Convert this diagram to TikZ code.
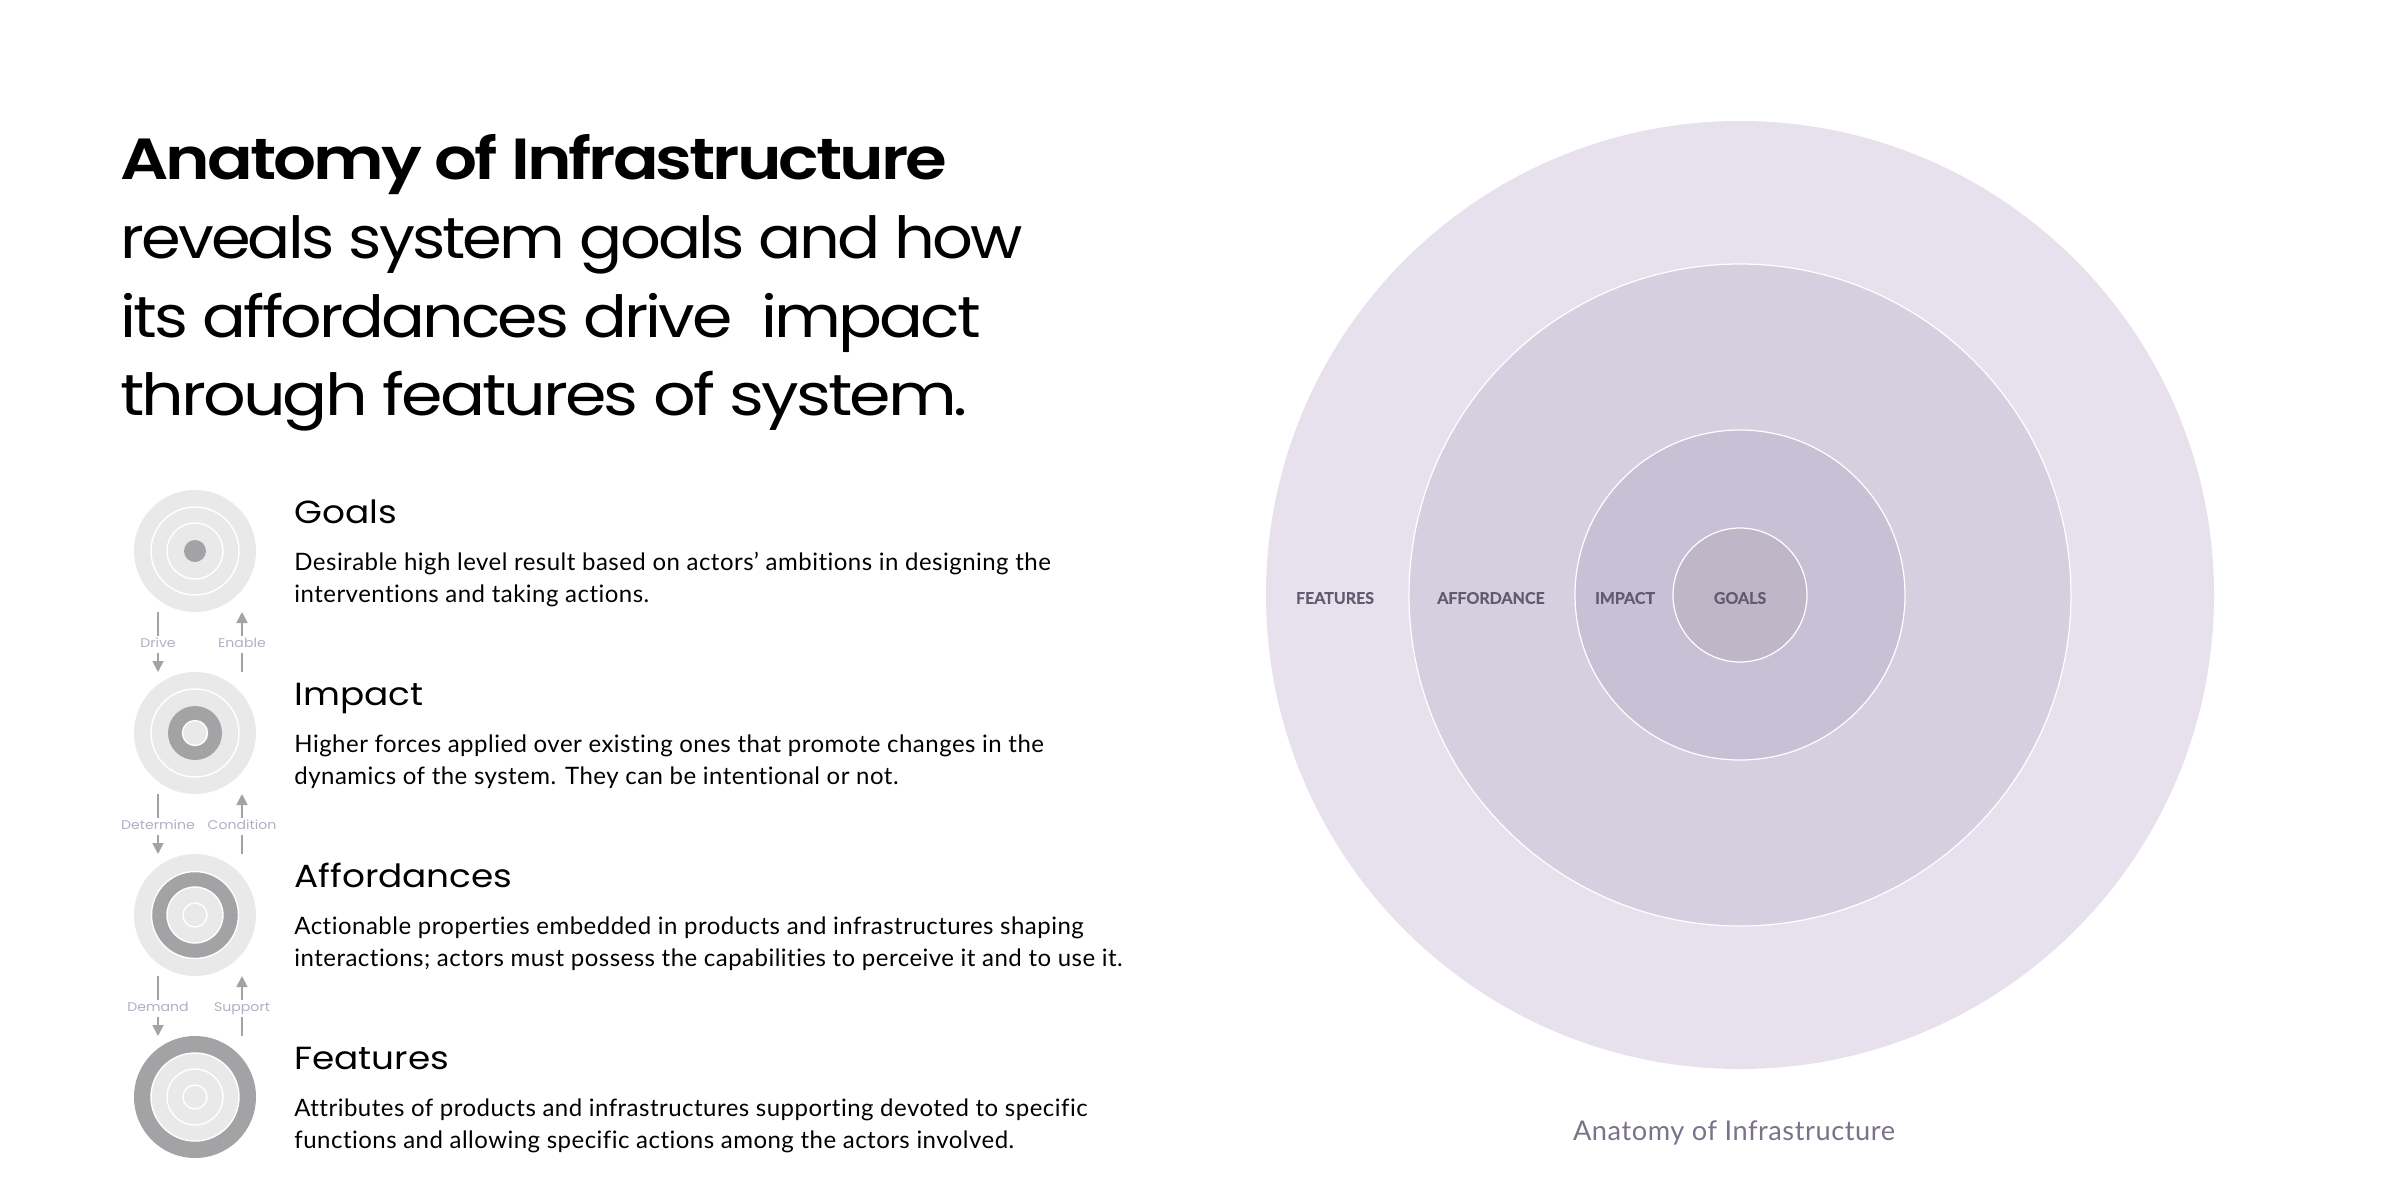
\documentclass[tikz,border=0pt]{standalone}
\usepackage{fontspec}
\usetikzlibrary{arrows.meta}
\setmainfont[LetterSpace=2,Ligatures=NoCommon,BoldFeatures={FakeBold=0.5,LetterSpace=0}]{Lato}
\newfontfamily\titlefont[FakeStretch=1.12,LetterSpace=-5,BoldFont={Poppins SemiBold}]{Poppins}
\newfontfamily\itemfont[FakeStretch=1.12]{Poppins}
\usepackage{xcolor}
\definecolor{featcol}{HTML}{E6E1EC}
\definecolor{affcol}{HTML}{D6CFDF}
\definecolor{impcol}{HTML}{C8C0D4}
\definecolor{goalcol}{HTML}{BFB6C8}
\definecolor{palecol}{HTML}{E9E9EA}
\definecolor{markcol}{HTML}{A3A3A5}
\definecolor{flowcol}{HTML}{B5ADC2}
\definecolor{capcol}{HTML}{625A72}
\definecolor{notecol}{HTML}{7B7189}
\begin{document}
\begin{tikzpicture}[x=0.5pt,y=-0.5pt,
  ring/.style={circle,inner sep=0pt,outer sep=0pt,minimum size=#1*1pt},
  pale/.style={fill=palecol,draw=white,line width=0.7pt},
  darkdisc/.style={fill=markcol,draw=white,line width=0.7pt},
  flat/.style={draw=none},
  bigring/.style={draw=white,line width=0.6pt},
  flow/.style={draw=markcol,line width=0.9pt,-{Triangle[length=5.5pt,width=5.5pt]}},
  flowname/.style={inner sep=1pt,fill=white,text=flowcol,text height=5pt,text depth=1.5pt,yshift=-1pt,font=\itemfont\fontsize{6.3}{8}\selectfont},
  inname/.style={inner sep=0pt,text=capcol,font=\bfseries\fontsize{8}{10}\selectfont},
  itemhead/.style={anchor=base west,inner sep=0pt,font=\itemfont\fontsize{16}{18}\selectfont},
  itembody/.style={anchor=base west,inner sep=0pt,font=\fontsize{12}{14}\selectfont},
  headline/.style={anchor=base west,inner sep=0pt,font=\titlefont\fontsize{29}{36}\selectfont}]
\useasboundingbox (0,0) rectangle (2400,1200);
%Large circles
\node[ring=474,fill=featcol,flat] (bigfeatures) at (1740,595) {};
\node[ring=331,fill=affcol,bigring] (bigaffordance) at (1740,595) {};
\node[ring=165,fill=impcol,bigring] (bigimpact) at (1740,595) {};
\node[ring=67,fill=goalcol,bigring] (biggoals) at (1740,595) {};
%Goals icon
\node[ring=61,fill=palecol,flat] (icongoals) at (195,551) {};
\node[ring=44,pale] (icongoalsb) at (195,551) {};
\node[ring=28,pale] (icongoalsc) at (195,551) {};
\node[ring=11,fill=markcol,flat] (icongoalsd) at (195,551) {};
%Impact icon
\node[ring=61,fill=palecol,flat] (iconimpact) at (195,733) {};
\node[ring=44,pale] (iconimpactb) at (195,733) {};
\node[ring=27,fill=markcol,flat] (iconimpactc) at (195,733) {};
\node[ring=12.5,pale] (iconimpactd) at (195,733) {};
%Affordances icon
\node[ring=61,fill=palecol,flat] (iconaff) at (195,915) {};
\node[ring=43.5,darkdisc] (iconaffb) at (195,915) {};
\node[ring=28,pale] (iconaffc) at (195,915) {};
\node[ring=12,pale] (iconaffd) at (195,915) {};
%Features icon
\node[ring=61,fill=markcol,flat] (iconfeat) at (195,1097) {};
\node[ring=44,pale] (iconfeatb) at (195,1097) {};
\node[ring=28,pale] (iconfeatc) at (195,1097) {};
\node[ring=12,pale] (iconfeatd) at (195,1097) {};
%Arrow ends
\coordinate (dragoals) at (158,612);
\coordinate (draimpact) at (158,672);
\coordinate (enagoals) at (242,612);
\coordinate (enaimpact) at (242,672);
\coordinate (detimpact) at (158,794);
\coordinate (detaff) at (158,854);
\coordinate (conimpact) at (242,794);
\coordinate (conaff) at (242,854);
\coordinate (demaff) at (158,976);
\coordinate (demfeat) at (158,1036);
\coordinate (supaff) at (242,976);
\coordinate (supfeat) at (242,1036);
%Arrows
\draw[flow] (dragoals) -- node[flowname] (drive) {Drive} (draimpact);
\draw[flow] (enaimpact) -- node[flowname] (enable) {Enable} (enagoals);
\draw[flow] (detimpact) -- node[flowname] (determine) {Determine} (detaff);
\draw[flow] (conaff) -- node[flowname] (condition) {Condition} (conimpact);
\draw[flow] (demaff) -- node[flowname] (demand) {Demand} (demfeat);
\draw[flow] (supfeat) -- node[flowname] (support) {Support} (supaff);
%Text
\node[headline] (titlea) at (120,179) {\scalebox{1.039}[1]{\bfseries Anatomy of Infrastructure}};
\node[headline] (titleb) at (120,258) {\scalebox{0.983}[1]{reveals system goals and how}};
\node[headline] (titlec) at (120,337) {its affordances drive\ \ impact};
\node[headline] (titled) at (120,415) {\scalebox{1.028}[1]{through features of system.}};
\node[itemhead] (headgoals) at (294,523) {Goals};
\node[itembody] (bodygoalsa) at (294,570) {Desirable high level result based on actors’ ambitions in designing the};
\node[itembody] (bodygoalsb) at (294,602) {interventions and taking actions.};
\node[itemhead] (headimpact) at (294,705) {Impact};
\node[itembody] (bodyimpacta) at (294,752) {Higher forces applied over existing ones that promote changes in the};
\node[itembody] (bodyimpactb) at (294,784) {dynamics of the system. They can be intentional or not.};
\node[itemhead] (headaff) at (294,887) {Affordances};
\node[itembody] (bodyaffa) at (294,934) {Actionable properties embedded in products and infrastructures shaping};
\node[itembody] (bodyaffb) at (294,966) {interactions; actors must possess the capabilities to perceive it and to use it.};
\node[itemhead] (headfeat) at (294,1069) {Features};
\node[itembody] (bodyfeata) at (294,1116) {Attributes of products and infrastructures supporting devoted to specific};
\node[itembody] (bodyfeatb) at (294,1148) {functions and allowing specific actions among the actors involved.};
\node[inname] (namefeatures) at (1335,598) {FEATURES};
\node[inname] (nameaffordance) at (1491,598) {AFFORDANCE};
\node[inname] (nameimpact) at (1625,598) {IMPACT};
\node[inname] (namegoals) at (1740,598) {GOALS};
\node[inner sep=0pt,text=notecol,font=\fontsize{13.6}{18}\selectfont] (caption) at (1734,1133) {Anatomy of Infrastructure};
\end{tikzpicture}
\end{document}
